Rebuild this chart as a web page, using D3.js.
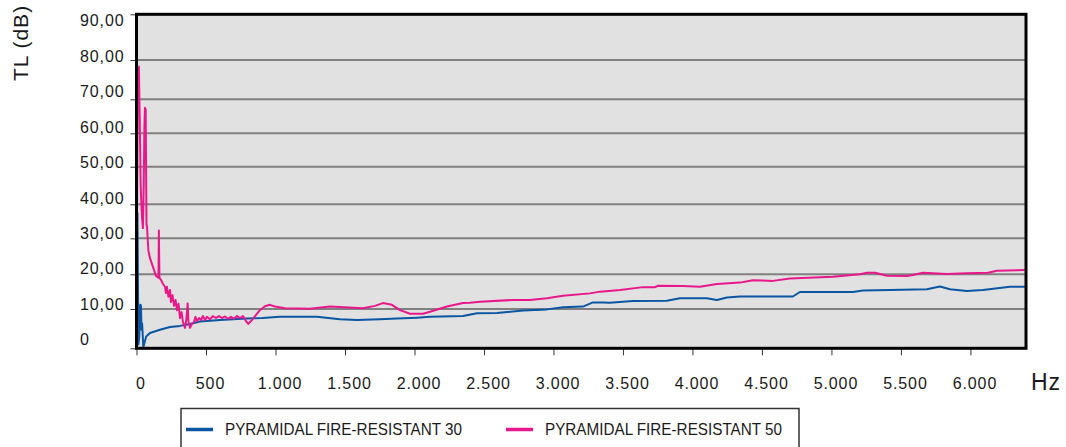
<!DOCTYPE html>
<html>
<head>
<meta charset="utf-8">
<script src="https://cdn.jsdelivr.net/npm/d3@7/dist/d3.min.js"></script>
<style>
  body { margin: 0; background: #fff; }
  text { font-family: "Liberation Sans", Arial, sans-serif; fill: #1a1a1a; }
</style>
</head>
<body>
<svg id="chart" width="1066" height="447"></svg>
<script>
// frequency axis (Hz) and TL axis (dB)
const xTicks = [0, 500, 1000, 1500, 2000, 2500, 3000, 3500, 4000, 4500, 5000, 5500, 6000];
const yTicks = [0, 10, 20, 30, 40, 50, 60, 70, 80, 90];
const yTickLabels = ["0", "10,00", "20,00", "30,00", "40,00", "50,00", "60,00", "70,00", "80,00", "90,00"];
const seriesNames = ["PYRAMIDAL FIRE-RESISTANT 30", "PYRAMIDAL FIRE-RESISTANT 50"];

// PYRAMIDAL FIRE-RESISTANT 30 (blue)
const blueHz = [0, 4, 7, 11, 14, 20, 27, 32, 36, 40, 43, 49, 60, 70, 97, 169, 241, 313, 385, 457, 601, 793, 908, 1030, 1154, 1298,
  1464, 1586, 1752, 1874, 2018, 2111, 2349, 2450, 2594, 2781, 2953, 3068, 3212, 3284, 3356, 3406, 3572, 3816, 3910, 4104,
  4176, 4248, 4342, 4723, 4773, 5155, 5227, 5421, 5687, 5781, 5853, 5975, 6090, 6284, 6392];
const blueTL = [1.5, 20, 37.4, 15, 1, 3, 11.2, 11, 4.7, 6.4, 4.7, 0.2, 1.8, 3, 3.9, 4.7, 5.4, 5.7, 6.2, 6.8, 7.2, 7.6, 7.7, 8, 8, 8,
  7.4, 7.2, 7.4, 7.6, 7.8, 8, 8.2, 8.9, 9, 9.6, 9.9, 10.5, 10.7, 11.9, 11.9, 11.8, 12.3, 12.4, 13.1, 13.1,
  12.6, 13.3, 13.6, 13.6, 14.9, 14.9, 15.3, 15.5, 15.7, 16.5, 15.7, 15.2, 15.5, 16.4, 16.4];

// PYRAMIDAL FIRE-RESISTANT 50 (pink)
const pinkHz = [0, 5, 10, 17, 23, 30, 34, 40, 46, 52, 57, 61, 66, 69, 72, 76, 80, 86, 97, 119, 140, 158, 161, 165, 176, 191,
  205, 212, 219, 230, 241, 248, 259, 270, 281, 291, 302, 313, 324, 334, 349, 360, 368, 374, 385, 399, 414, 424, 435, 450,
  464, 478, 493, 507, 529, 550, 572, 593, 615, 637, 658, 680, 701, 723, 745, 766, 788, 804, 831, 860, 888, 924, 960, 996,
  1068, 1248, 1392, 1629, 1716, 1773, 1838, 1896, 1968, 2061, 2112, 2234, 2349, 2399, 2471, 2709, 2831, 2953, 3068, 3263,
  3335, 3479, 3645, 3731, 3752, 3932, 4054, 4176, 4342, 4435, 4579, 4701, 5011, 5205, 5256, 5313, 5400, 5543, 5587, 5659,
  5832, 5975, 6126, 6191, 6392];
const pinkTL = [1.5, 45, 78, 78.3, 65, 45, 41, 36, 33, 45, 62, 67.5, 67, 50, 34, 33.5, 30, 26.5, 24.5, 22, 19.5, 19, 32.3, 19, 18.4, 17.2,
  16.4, 14.6, 16.4, 13.5, 15.5, 12, 14, 10.9, 12.6, 9.7, 11.5, 7.7, 9.2, 6.7, 5.2, 7.7, 11.6, 6.7, 5.2, 6.2, 6.7, 8, 6.9, 7.7,
  7.2, 8.2, 7.2, 8, 7.4, 8.2, 7.7, 8.2, 7.7, 8.1, 7.5, 8, 7.5, 8.2, 7.7, 8.2, 6.9, 6.2, 7.2, 8.5, 9.7, 10.8, 11.2, 10.7,
  10.2, 10.1, 10.7, 10.2, 10.9, 11.7, 11.2, 9.7, 8.8, 8.8, 9.3, 10.7, 11.7, 11.8, 12.1, 12.6, 12.6, 13.1, 13.8, 14.5,
  15, 15.5, 16.3, 16.3, 16.7, 16.6, 16.4, 17.2, 17.6, 18.3, 18.1, 18.8, 19.3, 20, 20.4, 20.4, 19.6, 19.5, 19.8, 20.4,
  20.1, 20.3, 20.4, 21, 21.2];

const colors = ["#0a56a3", "#e8188a"];

// layout
const plotL = 136.5, plotR = 1026, plotT = 14.3, plotB = 348.3;
// the original value axis is not evenly spaced: relative height of each gridline
const gridFrac = [0, 0.1177, 0.2216, 0.3293, 0.4311, 0.5437, 0.6437, 0.7455, 0.8632, 1];

const svg = d3.select("#chart");

const x = d3.scaleLinear().domain([0, 6400]).range([plotL, plotR]);
const y = d3.scaleLinear().domain(yTicks).range(gridFrac.map(f => plotB - f * (plotB - plotT)));
// the labels themselves are evenly spaced
const yLab = d3.scaleLinear().domain([0, 90]).range([339, 20]);

svg.append("rect")
    .attr("x", plotL).attr("y", plotT)
    .attr("width", plotR - plotL).attr("height", plotB - plotT)
    .attr("fill", "#e1e1e1");

// gridlines
svg.append("g").selectAll("line").data(yTicks.slice(1, -1))
  .join("line")
    .attr("x1", plotL).attr("x2", plotR)
    .attr("y1", d => y(d)).attr("y2", d => y(d))
    .attr("stroke", "#808080").attr("stroke-width", 2);

svg.append("defs").append("clipPath").attr("id", "clip")
  .append("rect").attr("x", plotL).attr("y", plotT).attr("width", plotR - plotL).attr("height", plotB - plotT);

const line = d3.line().x(d => x(d[0])).y(d => y(d[1]));
const series = [d3.zip(blueHz, blueTL), d3.zip(pinkHz, pinkTL)];

svg.append("g").attr("clip-path", "url(#clip)")
  .selectAll("path").data(series)
  .join("path")
    .attr("d", line)
    .attr("fill", "none")
    .attr("stroke", (d, i) => colors[i])
    .attr("stroke-width", 2)
    .attr("stroke-linejoin", "round");

// y axis
const yAxis = svg.append("g")
    .attr("transform", `translate(${plotL},0)`)
    .call(d3.axisLeft(y).tickValues(yTicks).tickSize(6).tickFormat((d, i) => yTickLabels[i]));
yAxis.select(".domain").remove();
yAxis.selectAll(".tick line").attr("stroke", "#333");
yAxis.selectAll(".tick text")
    .attr("text-anchor", "start")
    .attr("x", 80 - plotL)
    .attr("dy", null)
    .attr("y", d => yLab(d) - y(d) + 5.8)
    .style("font-size", "16px")
    .style("letter-spacing", "0.9px")
    .attr("fill", "#1a1a1a");

// x axis
const xAxis = svg.append("g")
    .attr("transform", `translate(0,${plotB})`)
    .call(d3.axisBottom(x).tickValues(xTicks).tickSize(7)
      .tickFormat(d => d3.format(",")(d).replace(/,/g, ".")));
xAxis.select(".domain").remove();
xAxis.selectAll(".tick line").attr("stroke", "#333");
xAxis.selectAll(".tick text")
    .attr("dy", null)
    .attr("y", 40.5)
    .attr("dx", 4)
    .style("font-size", "16px")
    .style("letter-spacing", "0.9px")
    .attr("fill", "#1a1a1a");

// frame
svg.append("rect")
    .attr("x", plotL).attr("y", plotT)
    .attr("width", plotR - plotL).attr("height", plotB - plotT)
    .attr("fill", "none").attr("stroke", "#000").attr("stroke-width", 3);

svg.append("text")
    .attr("transform", "translate(28,43) rotate(-90)")
    .attr("text-anchor", "middle")
    .style("font-size", "21px")
    .style("letter-spacing", "1px")
    .text("TL (dB)");

svg.append("text")
    .attr("x", 1031).attr("y", 390)
    .style("font-size", "23px")
    .style("letter-spacing", "1px")
    .text("Hz");

// legend
svg.append("rect")
    .attr("x", 181).attr("y", 408.5)
    .attr("width", 618).attr("height", 60)
    .attr("fill", "#fff").attr("stroke", "#333").attr("stroke-width", 1.5);

const legend = svg.append("g").selectAll("g").data(seriesNames)
  .join("g")
    .attr("transform", (d, i) => `translate(${186 + i * 320},429.5)`);
legend.append("line")
    .attr("x1", 0).attr("x2", 27)
    .attr("stroke", (d, i) => colors[i]).attr("stroke-width", 3.5);
legend.append("text")
    .attr("x", 39).attr("y", 5.8)
    .attr("textLength", 237).attr("lengthAdjust", "spacingAndGlyphs")
    .style("font-size", "16.5px")
    .text(d => d);
</script>
</body>
</html>
